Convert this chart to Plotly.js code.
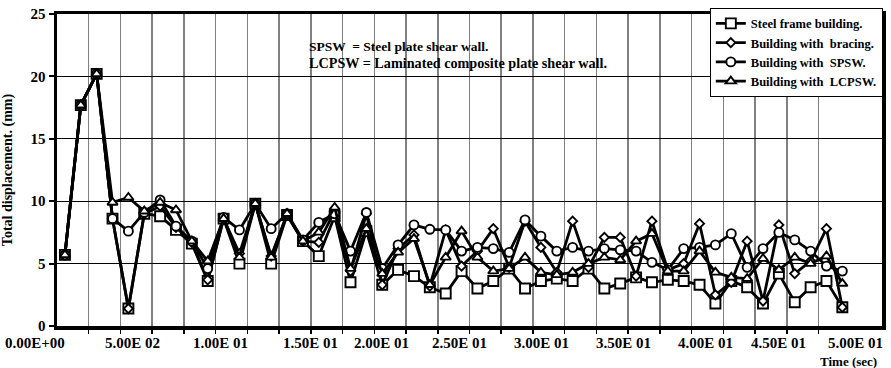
<!DOCTYPE html>
<html><head><meta charset="utf-8">
<script src="https://cdn.plot.ly/plotly-3.0.1.min.js"></script>
<style>html,body{margin:0;padding:0;background:#fff}#chart{width:891px;height:368px}</style>
</head><body><div id="chart"></div>
<script>
// Time-step categories (one per recorded point)
const steps = [1,2,3,4,5,6,7,8,9,10,11,12,13,14,15,16,17,18,19,20,21,22,23,24,25,
               26,27,28,29,30,31,32,33,34,35,36,37,38,39,40,41,42,43,44,45,46,47,48,49,50];

const seriesNames = ["Steel frame building.", "Building with  bracing.", "Building with  SPSW.", "Building with  LCPSW."];

const steelFrame = [5.7,17.7,20.2,8.6,1.4,9.0,8.8,7.7,6.6,3.6,8.6,5.0,9.8,5.0,8.9,6.8,5.6,8.8,3.5,7.6,
                    3.3,4.5,4.0,3.1,2.6,4.4,3.0,3.6,4.6,3.0,3.6,3.8,3.6,4.6,3.0,3.4,3.9,3.5,3.7,3.6,
                    3.3,1.8,3.6,3.1,1.8,4.2,1.9,3.1,3.6,1.5];
const bracing    = [5.7,17.7,20.2,8.6,1.4,9.0,9.6,7.9,6.7,3.7,8.6,5.8,9.8,5.6,8.9,6.8,6.7,9.2,4.4,9.0,
                    3.3,6.2,7.3,3.2,7.7,4.8,6.0,7.8,4.7,8.4,6.3,4.3,8.4,4.7,7.1,7.1,4.0,8.4,4.5,5.0,
                    8.2,2.5,3.5,6.8,2.0,8.1,4.2,5.2,7.8,1.5];
const spsw       = [5.7,17.7,20.2,8.6,7.6,9.1,10.1,8.0,6.8,4.6,8.7,7.7,9.8,7.8,9.0,6.9,8.3,9.0,6.0,9.1,
                    4.6,6.5,8.1,7.75,7.7,6.0,6.3,6.2,5.9,8.5,7.2,6.0,6.3,6.0,6.2,6.1,6.0,5.1,4.5,6.2,
                    6.3,6.5,7.4,4.7,6.2,7.5,6.9,6.0,4.8,4.4];
const lcpsw      = [5.7,17.7,20.2,9.9,10.3,9.2,9.9,9.3,6.8,5.2,8.6,5.5,9.8,5.5,9.0,6.8,7.5,9.5,4.6,7.8,
                    4.2,5.9,7.0,3.3,5.5,7.6,5.5,4.4,4.6,5.5,4.3,4.1,4.3,5.0,5.5,5.3,6.8,7.4,4.4,4.4,
                    6.0,4.3,3.9,3.8,5.4,4.5,5.5,5.0,5.6,3.4];

// x-axis label texts and where they sit (in time-step units)
const timeLabels = ["0.00E+00","5.00E 02","1.00E 01","1.50E 01","2.00E 01","2.50E 01",
                    "3.00E 01","3.50E 01","4.00E 01","4.50E 01","5.00E 01"];
const timeLabelAt = [-0.89,5.23,10.83,16.5,20.98,25.9,31.06,36.23,41.4,46.0,50.85];

const yTicks = [0,5,10,15,20,25];

const FONT = "Liberation Serif, Times New Roman, serif";
const symbols = ["square","diamond","circle","triangle-up"];
const sizes = [10,7,9,9];
const allSeries = [steelFrame, bracing, spsw, lcpsw];

const X_MIN = 0.5, X_MAX = 52.5;

const traces = allSeries.map((vals, k) => ({
  type: "scatter", mode: "lines+markers",
  x: steps, y: vals, name: seriesNames[k],
  legendgroup: "g" + k, legendrank: k + 1,
  line: {color: "#000", width: 2.8},
  marker: {symbol: symbols[k], size: sizes[k], color: "#fff", line: {color: "#000", width: 1.9}},
  cliponaxis: false
}));

const gridVals = [];
for (let v = 2.5; v <= 48.5; v += 2) gridVals.push(v);

const annotations = timeLabels.map((t, k) => ({
  text: t, x: (timeLabelAt[k] - X_MIN) / (X_MAX - X_MIN), xref: "paper", y: 0, yref: "paper", yshift: -7,
  yanchor: "top", xanchor: "center", showarrow: false,
  font: {family: FONT, size: 15, color: "#000", weight: "bold"}
}));
annotations.push({
  text: "SPSW  = Steel plate shear wall.",
  xref: "paper", yref: "paper", x: (307 - 57) / 826, y: 1 - (33 - 10) / 316,
  xanchor: "left", yanchor: "top", align: "left", showarrow: false,
  font: {family: FONT, size: 13.5, color: "#000", weight: "bold"}
});
annotations.push({
  text: "LCPSW = Laminated composite plate shear wall.",
  xref: "paper", yref: "paper", x: (307 - 57) / 826, y: 1 - (49 - 10) / 316,
  xanchor: "left", yanchor: "top", align: "left", showarrow: false,
  font: {family: FONT, size: 14.2, color: "#000", weight: "bold"}
});
annotations.push({
  text: "Time (sec)", xref: "paper", yref: "paper", x: (849 - 57) / 826, y: 0, yshift: -26,
  xanchor: "center", yanchor: "top", showarrow: false,
  font: {family: FONT, size: 13, color: "#000", weight: "bold"}
});

const layout = {
  width: 891, height: 368,
  margin: {l: 57, r: 8, t: 10, b: 42},
  paper_bgcolor: "#fff", plot_bgcolor: "#fff",
  font: {family: FONT, size: 14, color: "#000", weight: "bold"},
  showlegend: true,
  legend: {
    x: 1.001, xanchor: "right", y: 1.02, yanchor: "top",
    bgcolor: "#fff", bordercolor: "#000", borderwidth: 1,
    traceorder: "grouped", tracegroupgap: 0,
    font: {family: FONT, size: 12.5, color: "#000", weight: "bold"},
    itemwidth: 30
  },
  xaxis: {
    range: [X_MIN, X_MAX], tickmode: "array", tickvals: gridVals, showticklabels: false,
    ticks: "outside", ticklen: 4, tickwidth: 1.5, tickcolor: "#000",
    showgrid: true, gridcolor: "#808080", gridwidth: 1.5,
    showline: true, linecolor: "#000", linewidth: 3.5, mirror: true, zeroline: false
  },
  yaxis: {
    range: [0, 25], tickmode: "array", tickvals: yTicks,
    ticks: "outside", ticklen: 5, tickwidth: 2, tickcolor: "#000",
    showgrid: true, gridcolor: "#000", gridwidth: 1,
    showline: true, linecolor: "#000", linewidth: 3.5, mirror: true, zeroline: false,
    tickfont: {family: FONT, size: 15, color: "#000", weight: "bold"},
    title: {text: "Total displacement. (mm)", standoff: 27,
            font: {family: FONT, size: 14, color: "#000", weight: "bold"}},
    automargin: false
  },
  annotations: annotations
};

Plotly.newPlot("chart", traces, layout, {displayModeBar: false, staticPlot: true});
</script>
</body></html>
